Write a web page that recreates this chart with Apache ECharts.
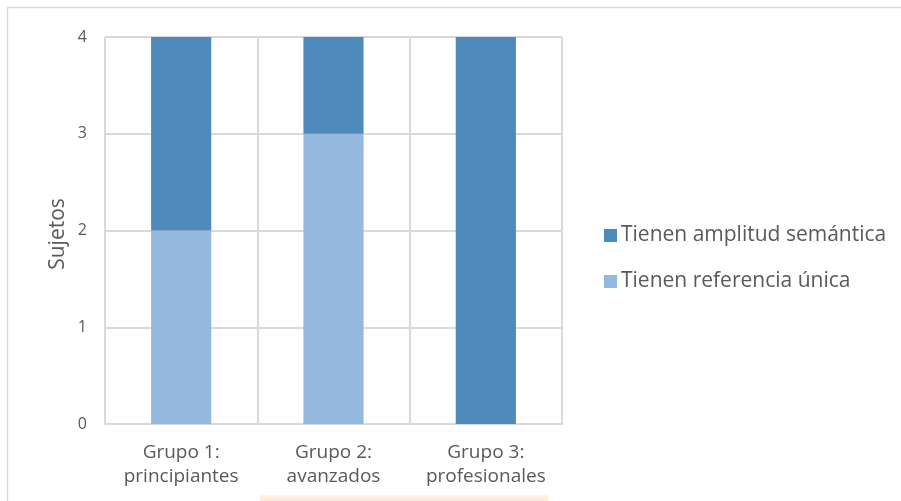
<!DOCTYPE html>
<html>
<head>
<meta charset="utf-8">
<script src="https://cdn.jsdelivr.net/npm/echarts@6/dist/echarts.min.js"></script>
<style>
  html, body { margin: 0; padding: 0; background: #ffffff; }
  #chart { width: 901px; height: 501px; }
</style>
</head>
<body>
<div id="chart"></div>
<script>
// Categories and stacked counts per group
const categories = ['Grupo 1:\nprincipiantes', 'Grupo 2:\navanzados', 'Grupo 3:\nprofesionales'];
const referenciaUnica = [2, 3, 0];
const amplitudSemantica = [2, 1, 4];
const yTicks = [0, 1, 2, 3, 4];
const yAxisTitle = 'Sujetos';

const FONT = '"Open Sans", "Noto Sans", sans-serif';
const TEXT = '#595959';
const GRID = '#d9d9d9';

const chart = echarts.init(document.getElementById('chart'), null, { renderer: 'canvas' });

chart.setOption({
  animation: false,
  backgroundColor: '#ffffff',
  textStyle: { fontFamily: FONT },
  graphic: [
    // outer chart frame
    { type: 'rect', shape: { x: 7.5, y: 7.5, width: 920, height: 520 },
      style: { fill: 'none', stroke: GRID, lineWidth: 1.5 }, silent: true, z: -1 },
    // faint highlight strip at the bottom
    { type: 'rect', shape: { x: 260, y: 495, width: 288, height: 6 },
      style: { fill: new echarts.graphic.LinearGradient(0, 0, 0, 1, [
        { offset: 0, color: 'rgba(252,236,214,0.5)' },
        { offset: 1, color: 'rgba(252,230,200,0.9)' }
      ]) }, silent: true, z: -1 },
    // vertical value-axis title
    { type: 'text', x: 58, y: 234, rotation: Math.PI / 2,
      style: { text: yAxisTitle, align: 'center', verticalAlign: 'middle',
               fontSize: 21, fontFamily: FONT, fill: TEXT }, silent: true }
  ],
  grid: { left: 105, right: 339, top: 37, bottom: 77, containLabel: false },
  legend: {
    orient: 'vertical',
    left: 599,
    top: 220,
    itemWidth: 13,
    itemHeight: 13,
    itemGap: 25,
    icon: 'rect',
    data: ['Tienen amplitud semántica', 'Tienen referencia única'],
    textStyle: { color: TEXT, fontSize: 21, fontFamily: FONT, padding: [0, 0, 0, -1] }
  },
  xAxis: {
    type: 'category',
    data: categories,
    axisLine: { show: true, lineStyle: { color: GRID, width: 2 } },
    axisTick: { show: false },
    splitLine: { show: true, interval: 0, lineStyle: { color: GRID, width: 2 } },
    axisLabel: { interval: 0, color: TEXT, fontSize: 19, lineHeight: 24, margin: 17, fontFamily: FONT }
  },
  yAxis: {
    type: 'value',
    min: 0, max: 4, interval: 1,
    axisLine: { show: false },
    axisTick: { show: false },
    splitLine: { show: true, lineStyle: { color: GRID, width: 2 } },
    axisLabel: {
      color: TEXT, fontSize: 16, margin: 18, fontFamily: FONT,
      formatter: v => yTicks.includes(v) ? String(v) : ''
    }
  },
  series: [
    {
      name: 'Tienen referencia única',
      type: 'bar',
      stack: 'total',
      barWidth: '39.5%',
      data: referenciaUnica,
      itemStyle: { color: '#95b8df' }
    },
    {
      name: 'Tienen amplitud semántica',
      type: 'bar',
      stack: 'total',
      barWidth: '39.5%',
      data: amplitudSemantica,
      itemStyle: { color: '#4f8abc' }
    }
  ]
});
</script>
</body>
</html>
